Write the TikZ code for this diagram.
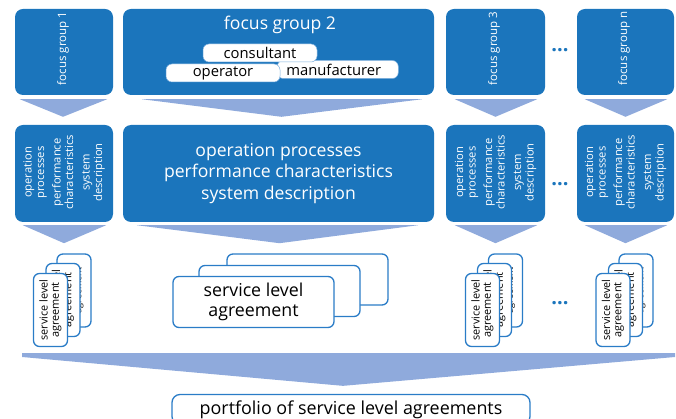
\documentclass[tikz,border=0pt]{standalone}
\usepackage{fontspec}
\setmainfont{Open Sans}
\usetikzlibrary{calc}
\definecolor{myblue}{HTML}{1B75BC}
\definecolor{tricol}{HTML}{8FAADC}
\definecolor{slablue}{HTML}{2A7CC7}
\newcommand{\fsz}[2]{\fontsize{#1}{#2}\selectfont}
\tikzset{
  bluebox/.style={fill=myblue, rounded corners=8pt, inner sep=0pt, text=white},
  tri/.style={fill=tricol},
  slabox/.style={draw=slablue, line width=1.3pt, fill=white, rounded corners=6pt, inner sep=0pt, align=center},
  smallsla/.style={slabox, rotate=90, minimum width=73pt, minimum height=34pt, font=\fsz{10.9}{11.2}},
  bigsla/.style={slabox, minimum width=161pt, minimum height=51pt, font=\fsz{17.8}{20}},
  rolebox/.style={fill=white, draw=slablue!60, line width=0.5pt, rounded corners=6pt, inner sep=0pt, minimum height=18pt, font=\fsz{14.8}{16}},
  vtext/.style={rotate=90, text=white, align=center},
  dots/.style={text=myblue, font=\bfseries\fsz{20}{20}}
}
\begin{document}
\begin{tikzpicture}[x=1pt,y=-1pt]
\useasboundingbox (0,0) rectangle (676,419);
% top row
\node[bluebox, minimum width=98pt, minimum height=86pt] (fg1) at (64,52) {};
\node[bluebox, minimum width=311pt, minimum height=86pt] (fg2) at (278.5,52) {};
\node[bluebox, minimum width=99pt, minimum height=86pt] (fg3) at (495.5,52) {};
\node[bluebox, minimum width=97pt, minimum height=86pt] (fgn) at (625.5,52) {};
\node[vtext, font=\fsz{11.5}{12}] (t1) at (63,48.5) {focus group 1};
\node[vtext, font=\fsz{11.5}{12}] (t3) at (494,48.5) {focus group 3};
\node[vtext, font=\fsz{11.5}{12}] (tn) at (624,48.5) {focus group n};
\node[text=white, font=\fsz{17.6}{20}] (t2) at (280,25) {focus group 2};
\node[rolebox, minimum width=121pt, anchor=west] (manu) at (277,69.5) {manufacturer\hspace*{8pt}};
\node[rolebox, minimum width=114pt] (cons) at (260,53) {consultant};
\node[rolebox, minimum width=114pt] (oper) at (223,73) {operator};
\node[dots] (d1) at (560,50) {...};
% middle row
\node[bluebox, minimum width=98pt, minimum height=97pt] (m1) at (64,173.5) {};
\node[bluebox, minimum width=311pt, minimum height=97pt, align=center, font=\fsz{17.6}{21.5}] (m2) at (278.5,173.5) {operation processes\\performance characteristics\\system description};
\node[bluebox, minimum width=99pt, minimum height=97pt] (m3) at (495.5,173.5) {};
\node[bluebox, minimum width=97pt, minimum height=97pt] (mn) at (625.5,173.5) {};
\foreach \n in {m1,m3,mn}{
  \node[vtext, font=\fsz{11.2}{12.5}] at ($(\n.center)+(0,-1)$) {operation\\processes\\[4pt]performance\\characteristics\\[4pt]system\\description};
}
\node[dots] (d2) at (560,184) {...};
% triangles top -> middle
\fill[tri] ($(fg1.south west)+(5,4)$) -- ($(fg1.south east)+(-6,4)$) -- ($(m1.north)+(-1,-8)$) -- cycle;
\fill[tri] ($(fg2.south west)+(19,4)$) -- ($(fg2.south east)+(-12,4)$) -- ($(m2.north)+(3,-8)$) -- cycle;
\fill[tri] ($(fg3.south west)+(9,4)$) -- ($(fg3.south east)+(-8,4)$) -- ($(m3.north)+(0,-8)$) -- cycle;
\fill[tri] ($(fgn.south west)+(8,4)$) -- ($(fgn.south east)+(-7,4)$) -- ($(mn.north)+(0,-8)$) -- cycle;
% SLA stacks
\node[smallsla, font=\fsz{9}{10}] (s1c) at (74,290.5) {service level\\agreement};
\node[smallsla] (s1b) at (63,300) {service level\\agreement};
\node[smallsla] (s1a) at (50.5,310) {service level\\agreement};
\node[bigsla] (s2c) at (307.5,279.5) {};
\node[bigsla] (s2b) at (279.5,291) {};
\node[bigsla] (s2a) at (253.5,302) {service level\\agreement};
\node[smallsla, font=\fsz{9}{10}] (s3c) at (505.5,290.5) {service level\\agreement};
\node[smallsla] (s3b) at (494.5,300) {service level\\agreement};
\node[smallsla] (s3a) at (482.5,310) {service level\\agreement};
\node[smallsla, font=\fsz{9}{10}] (snc) at (636,290.5) {service level\\agreement};
\node[smallsla] (snb) at (625.5,300) {service level\\agreement};
\node[smallsla] (sna) at (613,310) {service level\\agreement};
\node[dots] (d3) at (560,303) {...};
% triangles middle -> SLA
\fill[tri] ($(m1.south west)+(8,3)$) -- ($(m1.south east)+(-7,3)$) -- ($(m1.south)+(0,21)$) -- cycle;
\fill[tri] ($(m2.south west)+(14,3)$) -- ($(m2.south east)+(-16,3)$) -- ($(m2.south)+(1,21)$) -- cycle;
\fill[tri] ($(m3.south west)+(9,3)$) -- ($(m3.south east)+(-8,3)$) -- ($(m3.south)+(0,21)$) -- cycle;
\fill[tri] ($(mn.south west)+(8,3)$) -- ($(mn.south east)+(-7,3)$) -- ($(mn.south)+(0,21)$) -- cycle;
% portfolio
\node[slabox, minimum width=358pt, minimum height=30pt, rounded corners=8pt, font=\fsz{17.9}{20}] (pf) at (351,409.5) {portfolio of service level agreements};
\coordinate (bl) at (22,353);
\coordinate (br) at (675,353);
\fill[tri] (bl) -- (br) -- ($(br)+(0,4)$) -- ($(pf.north)+(-8,-8)$) -- ($(bl)+(0,4)$) -- cycle;
\end{tikzpicture}
\end{document}
